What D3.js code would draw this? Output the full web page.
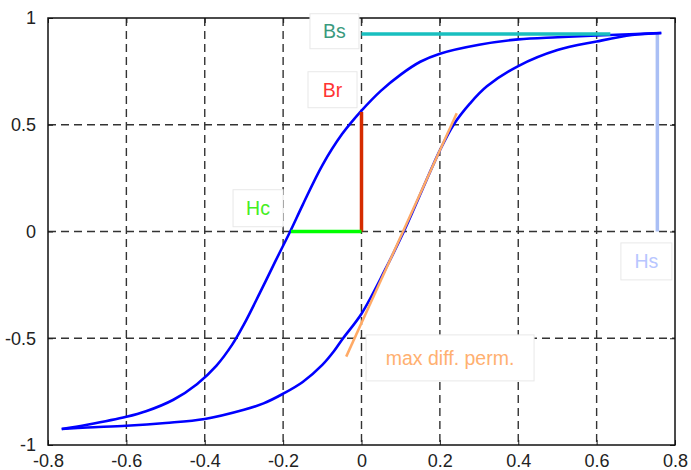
<!DOCTYPE html>
<html>
<head>
<meta charset="utf-8">
<script src="https://cdn.jsdelivr.net/npm/d3@7"></script>
<style>
  body { margin: 0; background: #fff; }
  text { font-family: Arial, "Liberation Sans", sans-serif; }
</style>
</head>
<body>
<div id="container"></div>
<script>
// descending branch (H from +Hs to -Hs)
let upperH = [0.765, 0.7, 0.6, 0.5, 0.4, 0.3, 0.2, 0.15, 0.1, 0.05, 0, -0.05, -0.1, -0.15, -0.182, -0.22, -0.26, -0.3, -0.33, -0.37, -0.42, -0.48, -0.55, -0.6, -0.7, -0.765];
let upperB = [0.93, 0.925, 0.918, 0.91, 0.9, 0.875, 0.833, 0.795, 0.735, 0.66, 0.566, 0.455, 0.31, 0.125, 0, -0.14, -0.29, -0.435, -0.53, -0.628, -0.715, -0.788, -0.842, -0.868, -0.905, -0.925];
// ascending branch (H from -Hs to +Hs)
let lowerH = [-0.765, -0.7, -0.6, -0.5, -0.4, -0.3, -0.25, -0.2, -0.15, -0.1, -0.07, -0.047, 0, 0.06, 0.108, 0.2, 0.235, 0.277, 0.32, 0.4, 0.5, 0.6, 0.69, 0.765];
let lowerB = [-0.925, -0.918, -0.91, -0.897, -0.878, -0.835, -0.805, -0.76, -0.705, -0.625, -0.56, -0.5, -0.385, -0.18, 0, 0.38, 0.5, 0.6, 0.68, 0.775, 0.85, 0.89, 0.92, 0.93];

let xTicks = [-0.8, -0.6, -0.4, -0.2, 0, 0.2, 0.4, 0.6, 0.8];
let yTicks = [-1, -0.5, 0, 0.5, 1];
let xTickLabels = ["-0.8", "-0.6", "-0.4", "-0.2", "0", "0.2", "0.4", "0.6", "0.8"];
let yTickLabels = ["-1", "-0.5", "0", "0.5", "1"];

// characteristic values
let Bs = 0.925, BsEnd = 0.635;
let Br = 0.56;
let Hc = -0.18;
let Hs = 0.755;
let tangentH = [-0.039, 0.243];
let tangentB = [-0.586, 0.554];

let w = 691;
let h = 470;
let viz = d3.select("#container")
  .append("svg")
    .attr("width", w)
    .attr("height", h)
;

let xScale = d3.scaleLinear().domain([-0.8, 0.8]).range([48, 675]);
let yScale = d3.scaleLinear().domain([-1, 1]).range([445, 18]);

// grid
viz.append("g").selectAll("line").data(xTicks.slice(1, -1)).enter().append("line")
    .attr("x1", d => xScale(d)).attr("x2", d => xScale(d))
    .attr("y1", yScale(1)).attr("y2", yScale(-1))
    .attr("stroke", "#333").attr("stroke-width", 1.4).attr("stroke-dasharray", "8,5");
viz.append("g").selectAll("line").data(yTicks.slice(1, -1)).enter().append("line")
    .attr("y1", d => yScale(d)).attr("y2", d => yScale(d))
    .attr("x1", xScale(-0.8)).attr("x2", xScale(0.8))
    .attr("stroke", "#333").attr("stroke-width", 1.4).attr("stroke-dasharray", "8,5");

// axes with inner ticks
let xAxis = d3.axisBottom(xScale).tickValues(xTicks).tickSize(-5).tickPadding(9)
    .tickFormat((d, i) => xTickLabels[i]);
let xAxisGroup = viz.append("g")
    .attr("transform", "translate(0," + yScale(-1) + ")")
    .call(xAxis);
let xTop = viz.append("g")
    .attr("transform", "translate(0," + yScale(1) + ")")
    .call(d3.axisTop(xScale).tickValues(xTicks).tickSize(-5).tickFormat(""));
let yAxis = d3.axisLeft(yScale).tickValues(yTicks).tickSize(-5).tickPadding(12)
    .tickFormat((d, i) => yTickLabels[i]);
let yAxisGroup = viz.append("g")
    .attr("transform", "translate(" + xScale(-0.8) + ",0)")
    .call(yAxis);
let yRight = viz.append("g")
    .attr("transform", "translate(" + xScale(0.8) + ",0)")
    .call(d3.axisRight(yScale).tickValues(yTicks).tickSize(-5).tickFormat(""));

viz.selectAll(".domain").remove();
viz.selectAll(".tick line").attr("stroke", "#222");
viz.selectAll(".tick text").attr("font-size", 18).attr("fill", "#222")
    .attr("font-family", "Arial, 'Liberation Sans', sans-serif");
xAxisGroup.selectAll(".tick text").attr("dy", "0.71em");

viz.append("rect")
    .attr("x", xScale(-0.8)).attr("y", yScale(1))
    .attr("width", xScale(0.8) - xScale(-0.8)).attr("height", yScale(-1) - yScale(1))
    .attr("fill", "none").attr("stroke", "#111").attr("stroke-width", 1.5);

// Hs marker
viz.append("line")
    .attr("x1", xScale(Hs)).attr("x2", xScale(Hs))
    .attr("y1", yScale(Bs)).attr("y2", yScale(0))
    .attr("stroke", "#aabff5").attr("stroke-width", 3.5);

// loop
let lineMaker = d3.line()
    .x(d => xScale(d[0]))
    .y(d => yScale(d[1]))
    .curve(d3.curveCatmullRom);
let upper = upperH.map((v, i) => [v, upperB[i]]);
let lower = lowerH.map((v, i) => [v, lowerB[i]]);
[upper, lower].forEach(function(branch){
  viz.append("path")
      .datum(branch)
      .attr("d", lineMaker)
      .attr("fill", "none")
      .attr("stroke", "#0000ff")
      .attr("stroke-width", 2.6);
});

// Bs marker
viz.append("line")
    .attr("x1", xScale(0)).attr("x2", xScale(BsEnd))
    .attr("y1", yScale(Bs)).attr("y2", yScale(Bs))
    .attr("stroke", "#19bfbf").attr("stroke-width", 3.5);
// Br marker
viz.append("line")
    .attr("x1", xScale(0)).attr("x2", xScale(0))
    .attr("y1", yScale(0)).attr("y2", yScale(Br))
    .attr("stroke", "#d52b00").attr("stroke-width", 3.5);
// Hc marker
viz.append("line")
    .attr("x1", xScale(Hc)).attr("x2", xScale(0))
    .attr("y1", yScale(0)).attr("y2", yScale(0))
    .attr("stroke", "#00ff00").attr("stroke-width", 3.5);
// max differential permeability tangent
viz.append("line")
    .attr("x1", xScale(tangentH[0])).attr("x2", xScale(tangentH[1]))
    .attr("y1", yScale(tangentB[0])).attr("y2", yScale(tangentB[1]))
    .attr("stroke", "#ffaa66").attr("stroke-width", 2.5);

// annotation boxes (center in data units, size in px)
let labels = [
  { text: "Bs", x: -0.069, y: 0.938, bw: 49, bh: 35, color: "#3a9a7e" },
  { text: "Br", x: -0.074, y: 0.664, bw: 49, bh: 36, color: "#ff3333" },
  { text: "Hc", x: -0.264, y: 0.109, bw: 50, bh: 37, color: "#44ee22" },
  { text: "max diff. perm.", x: 0.226, y: -0.592, bw: 168, bh: 46, color: "#ffb070" },
  { text: "Hs", x: 0.727, y: -0.14, bw: 51, bh: 37, color: "#b8c6ff" }
];
let lab = viz.append("g").selectAll("g").data(labels).enter().append("g")
    .attr("transform", d => "translate(" + xScale(d.x) + "," + yScale(d.y) + ")");
lab.append("rect")
    .attr("x", d => -d.bw / 2).attr("y", d => -d.bh / 2)
    .attr("width", d => d.bw).attr("height", d => d.bh)
    .attr("fill", "#fff").attr("stroke", "#e8e8e8").attr("stroke-width", 1);
lab.append("text")
    .attr("text-anchor", "middle").attr("dy", "0.36em")
    .attr("font-size", 19.5)
    .attr("fill", d => d.color)
    .text(d => d.text);
</script>
</body>
</html>
